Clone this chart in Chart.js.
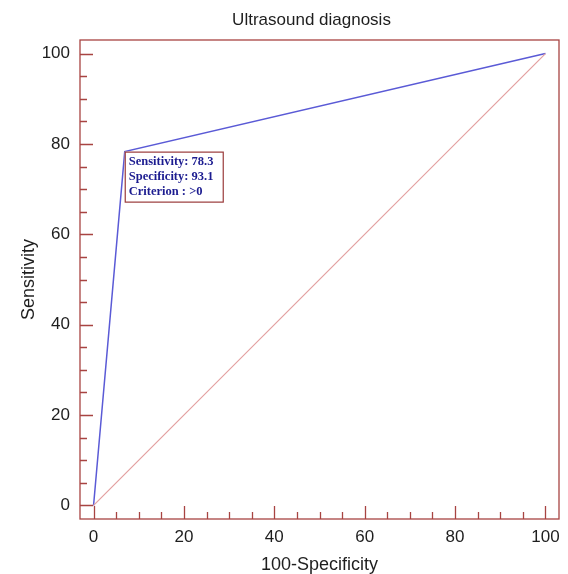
<!DOCTYPE html>
<html>
<head>
<meta charset="utf-8">
<script src="https://cdn.jsdelivr.net/npm/chart.js@4"></script>
<style>
  html, body { margin: 0; padding: 0; background: #fff; }
  #wrap { width: 568px; height: 574px; }
</style>
</head>
<body>
<div id="wrap"><canvas id="roc" width="568" height="574"></canvas></div>
<script>
// --- data ---
const rocX = [0, 6.9, 100];        // 100-Specificity
const rocY = [0, 78.3, 100];       // Sensitivity
const refX = [0, 100];
const refY = [0, 100];
const tickValues = [0, 20, 40, 60, 80, 100];
const criterionIndex = 1;
const criterionLines = ['Sensitivity: 78.3', 'Specificity: 93.1', 'Criterion : >0'];
const chartTitle = 'Ultrasound diagnosis';

const frameColor = '#a84442';
const sansFont = '"Liberation Sans", Arial, sans-serif';

// frame + inward ticks + title
const framePlugin = {
  id: 'frame',
  afterDraw(chart) {
    const { ctx, chartArea: a, scales } = chart;
    ctx.save();
    ctx.strokeStyle = frameColor;
    ctx.lineWidth = 1.3;
    ctx.strokeRect(a.left, a.top, a.right - a.left, a.bottom - a.top);
    ctx.beginPath();
    for (let v = 0; v <= 100; v += 5) {
      const len = v % 20 === 0 ? 13 : 7;
      const px = Math.round(scales.x.getPixelForValue(v)) + 0.5;
      ctx.moveTo(px, a.bottom);
      ctx.lineTo(px, a.bottom - len);
      const py = Math.round(scales.y.getPixelForValue(v)) + 0.5;
      ctx.moveTo(a.left, py);
      ctx.lineTo(a.left + len, py);
    }
    ctx.stroke();

    // title, centred a little left of the plot centre like the original
    ctx.fillStyle = '#1e1e1e';
    ctx.font = '17px ' + sansFont;
    ctx.textAlign = 'center';
    ctx.textBaseline = 'middle';
    ctx.fillText(chartTitle, (a.left + a.right) / 2 - 8, 20);
    ctx.restore();
  }
};

// criterion box next to the cut-off point
const boxPlugin = {
  id: 'criterionBox',
  afterDraw(chart) {
    const { ctx, scales } = chart;
    const px = scales.x.getPixelForValue(rocX[criterionIndex]);
    const py = scales.y.getPixelForValue(rocY[criterionIndex]);
    const x = px, y = py, w = 98, h = 50;
    ctx.save();
    ctx.fillStyle = '#fff';
    ctx.fillRect(x, y, w, h);
    ctx.strokeStyle = '#9a3a3a';
    ctx.lineWidth = 1.2;
    ctx.strokeRect(x + 0.5, y + 0.5, w, h);
    ctx.fillStyle = '#1c1c90';
    ctx.font = 'bold 12.5px "Liberation Serif", "DejaVu Serif", serif';
    ctx.textBaseline = 'middle';
    criterionLines.forEach((t, i) => ctx.fillText(t, x + 4, y + 10 + i * 15));
    ctx.restore();
  }
};

const onlyMain = scale => {
  scale.ticks = tickValues.map(v => ({ value: v }));
};

new Chart(document.getElementById('roc'), {
  type: 'scatter',
  data: {
    datasets: [
      {
        data: refX.map((x, i) => ({ x, y: refY[i] })),
        showLine: true,
        borderColor: '#e3a0a0',
        borderWidth: 1.2,
        pointRadius: 0
      },
      {
        data: rocX.map((x, i) => ({ x, y: rocY[i] })),
        showLine: true,
        borderColor: '#5a5ad6',
        borderWidth: 1.5,
        pointRadius: 0
      }
    ]
  },
  options: {
    responsive: false,
    animation: false,
    layout: { padding: { top: 40, right: 9 } },
    plugins: {
      legend: { display: false },
      tooltip: { enabled: false },
      title: { display: false }
    },
    scales: {
      x: {
        type: 'linear',
        min: -3,
        max: 103,
        afterBuildTicks: onlyMain,
        afterFit: s => { s.height = 55; },
        grid: { display: false, drawTicks: false },
        border: { display: false },
        ticks: {
          padding: 8,
          color: '#1e1e1e',
          font: { family: sansFont, size: 17 }
        },
        title: {
          display: true,
          text: '100-Specificity',
          color: '#1e1e1e',
          padding: { top: 0, bottom: 0 },
          font: { family: sansFont, size: 18, lineHeight: 1 }
        }
      },
      y: {
        type: 'linear',
        min: -3,
        max: 103,
        afterBuildTicks: onlyMain,
        afterFit: s => { s.width = 80; },
        grid: { display: false, drawTicks: false },
        border: { display: false },
        ticks: {
          padding: 10,
          color: '#1e1e1e',
          font: { family: sansFont, size: 17 }
        },
        title: {
          display: true,
          text: 'Sensitivity',
          color: '#1e1e1e',
          padding: { top: 18, bottom: 0 },
          font: { family: sansFont, size: 18 }
        }
      }
    }
  },
  plugins: [framePlugin, boxPlugin]
});
</script>
</body>
</html>
